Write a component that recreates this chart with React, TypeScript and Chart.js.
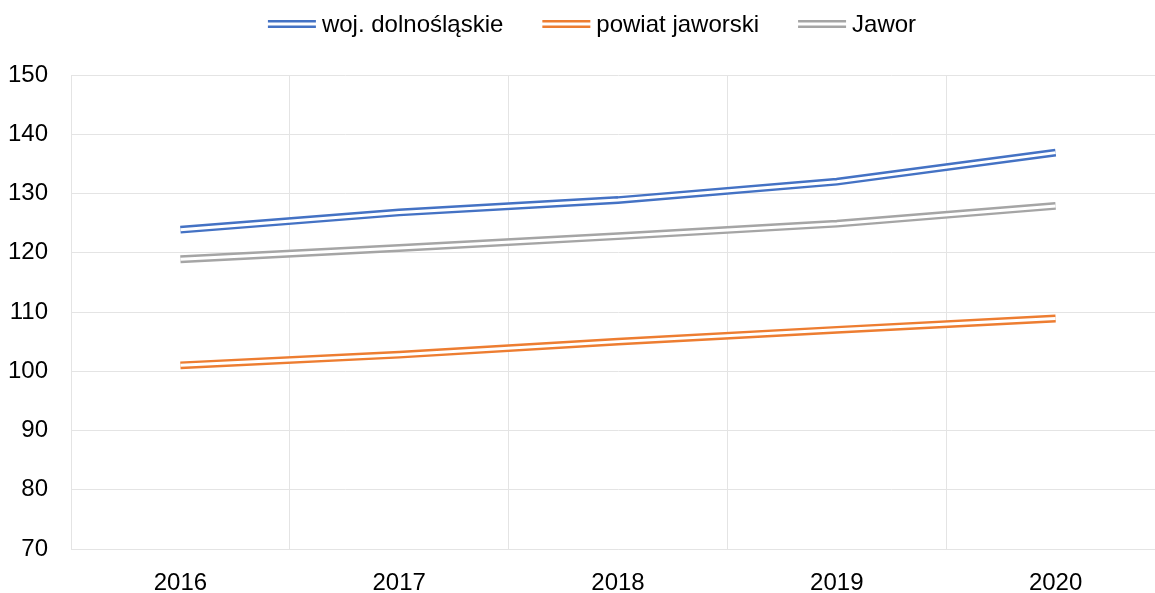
import { useEffect, useRef } from 'react';
import { Chart, registerables } from 'chart.js';

Chart.register(...registerables);

const years = ['2016', '2017', '2018', '2019', '2020'];
const dolnoslaskie = [123.9, 126.8, 128.9, 132.0, 136.9];
const powiatJaworski = [101.0, 102.8, 105.0, 107.0, 108.9];
const jawor = [118.9, 120.8, 122.8, 124.9, 127.9];
const seriesNames = ['woj. dolnośląskie', 'powiat jaworski', 'Jawor'];
const seriesValues = [dolnoslaskie, powiatJaworski, jawor];
const seriesColors = ['#4472C4', '#ED7D31', '#A5A5A5'];
const yMin = 70;
const yMax = 150;
const yStep = 10;

const FONT = '"Liberation Sans", Arial, sans-serif';
const GRID = '#e4e4e4';

const doubleLineLegend = {
  id: 'doubleLineLegend',
  afterDraw(chart: any) {
    const ctx = chart.ctx as CanvasRenderingContext2D;
    ctx.save();
    ctx.font = `24px ${FONT}`;
    const sample = 48;
    const gapText = 6;
    const gapItem = 39;
    const widths = seriesNames.map((n) => ctx.measureText(n).width);
    const total =
      widths.reduce((a, w) => a + sample + gapText + w, 0) + gapItem * (seriesNames.length - 1);
    let x = 592 - total / 2;
    const y = 24;
    seriesNames.forEach((name, i) => {
      ctx.strokeStyle = seriesColors[i];
      ctx.lineWidth = 2.4;
      ctx.beginPath();
      ctx.moveTo(x, y - 2.7);
      ctx.lineTo(x + sample, y - 2.7);
      ctx.moveTo(x, y + 2.7);
      ctx.lineTo(x + sample, y + 2.7);
      ctx.stroke();
      x += sample + gapText;
      ctx.fillStyle = '#000';
      ctx.textBaseline = 'middle';
      ctx.textAlign = 'left';
      ctx.fillText(name, x, y + 1);
      x += widths[i] + gapItem;
    });
    ctx.restore();
  },
};

export default function App() {
  const ref = useRef<HTMLCanvasElement | null>(null);

  useEffect(() => {
    if (!ref.current) return;
    const outer = seriesNames.map((name, i) => ({
      label: name,
      data: seriesValues[i],
      borderColor: seriesColors[i],
      backgroundColor: seriesColors[i],
      borderWidth: 7.8,
      pointRadius: 0,
      tension: 0,
      fill: false,
      order: 2,
    }));
    const inner = seriesNames.map((name, i) => ({
      label: name + ' inner',
      data: seriesValues[i],
      borderColor: '#ffffff',
      borderWidth: 3,
      pointRadius: 0,
      tension: 0,
      fill: false,
      order: 1,
    }));
    const chart = new Chart(ref.current, {
      type: 'line',
      data: { labels: years, datasets: [...outer, ...inner] },
      options: {
        responsive: false,
        animation: false,
        layout: { padding: { top: 75, left: 8, right: 0, bottom: 0 } },
        plugins: {
          legend: { display: false },
          tooltip: { enabled: false },
        },
        scales: {
          x: {
            offset: true,
            grid: { offset: true, color: GRID, lineWidth: 1, drawTicks: false },
            border: { color: GRID, width: 1 },
            ticks: { color: '#000', padding: 22, font: { family: FONT, size: 24, lineHeight: 1 } },
            afterFit: (s: any) => {
              s.height = 44;
            },
          },
          y: {
            min: yMin,
            max: yMax,
            grid: { color: GRID, lineWidth: 1, drawTicks: false },
            border: { color: GRID, width: 1 },
            ticks: {
              stepSize: yStep,
              color: '#000',
              padding: 23,
              font: { family: FONT, size: 24, lineHeight: 1 },
            },
            afterFit: (s: any) => {
              s.width = 63;
            },
          },
        },
      },
      plugins: [doubleLineLegend],
    });
    return () => chart.destroy();
  }, []);

  return (
    <div
      style={{
        position: 'fixed',
        left: 0,
        top: 0,
        width: 1155,
        height: 593,
        overflow: 'hidden',
        background: '#fff',
      }}
    >
      <canvas ref={ref} width={1165} height={593} style={{ display: 'block' }} />
    </div>
  );
}
